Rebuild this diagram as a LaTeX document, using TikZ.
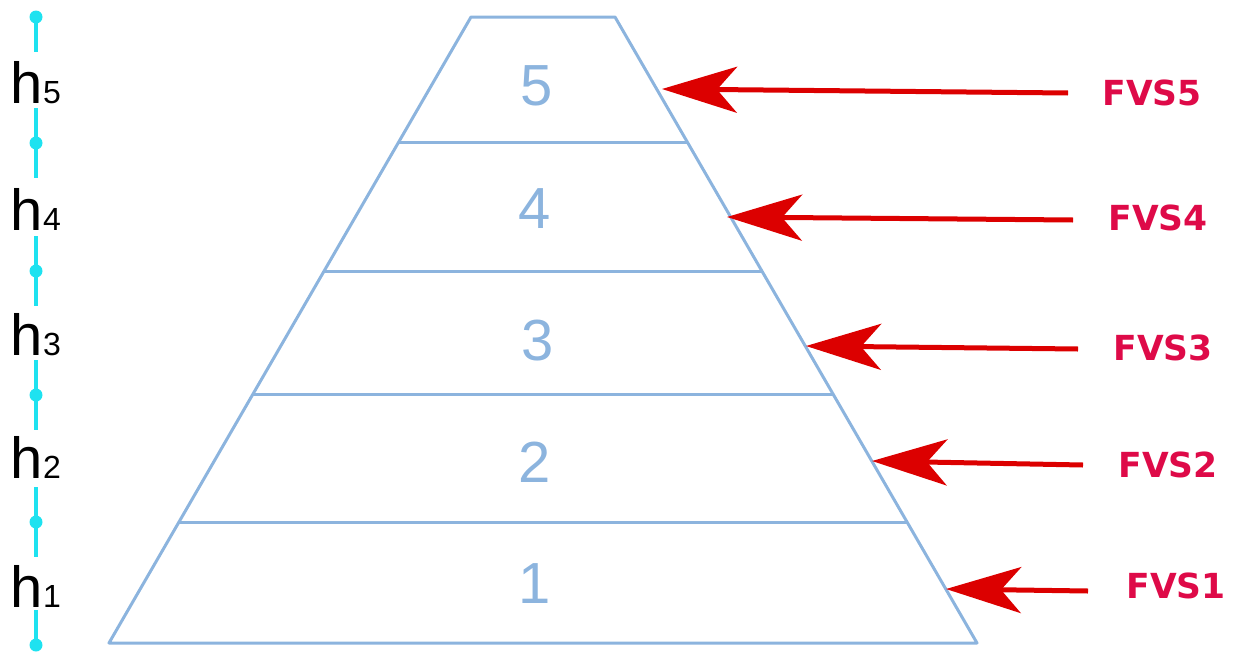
\documentclass[tikz,border=0pt]{standalone}
\usepackage{fontspec}
\setmainfont{Liberation Sans}
\newfontfamily\labelfont{DejaVu Sans}
\usepackage{tikz}
\usetikzlibrary{arrows.meta,calc}
\definecolor{layerblue}{RGB}{140,180,222}
\definecolor{axiscyan}{RGB}{30,226,240}
\definecolor{arrowred}{RGB}{220,0,0}
\definecolor{labelred}{RGB}{222,10,72}

\begin{document}
\begin{tikzpicture}[x=1pt,y=-1pt,
  layer/.style={draw=layerblue, line width=3pt, line join=round},
  layernum/.style={text=layerblue, font=\fontsize{58}{60}\selectfont, anchor=base, inner sep=0pt},
  hlabel/.style={font=\fontsize{58}{60}\selectfont, anchor=base, inner sep=0pt},
  axisline/.style={draw=axiscyan, line width=3.5pt},
  axisdot/.style={circle, fill=axiscyan, inner sep=0pt, minimum size=13pt},
  force/.style={draw=arrowred, line width=5pt, -{Stealth[length=75pt,width=46pt,inset=20pt]}},
  fvs/.style={text=labelred, font=\labelfont\fontsize{34.5}{36}\selectfont\bfseries, inner sep=0pt}
]
\useasboundingbox (0,0) rectangle (1238,653);

% pyramid outline
\coordinate (tl) at (471,17);
\coordinate (tr) at (615,17);
\coordinate (br) at (977,643);
\coordinate (bl) at (109,643);
\draw[layer] (tl) -- (tr) -- (br) -- (bl) -- cycle;

% layer boundaries
\foreach \y [count=\i] in {143,271,395,522} {
  \coordinate (L\i) at ($(tl)!{(\y-17)/626}!(bl)$);
  \coordinate (R\i) at ($(tr)!{(\y-17)/626}!(br)$);
  \draw[layer] (L\i) -- (R\i);
}

% layer numbers
\foreach \n/\x/\y in {5/537/105, 4/535/228, 3/538/360, 2/535/482, 1/535/603}
  \node[layernum] (num\n) at (\x,\y) {\n};

% height axis
\foreach \y [count=\i from 0] in {17,143,271,395,522,645}
  \node[axisdot] (d\i) at (36,\y) {};
\draw[axisline] (d0.center) -- ++(0,35);
\foreach \i in {1,...,4}
  \draw[axisline] ($(d\i.center)+(0,-35)$) -- ($(d\i.center)+(0,35)$);
\draw[axisline] ($(d5.center)+(0,-35)$) -- (d5.center);

\foreach \n/\y in {5/103, 4/230, 3/355, 2/478, 1/607}
  \node[hlabel] (h\n) at (36,\y) {h{\fontsize{32}{34}\selectfont\n}};

% loads
\foreach \n/\tx/\ty/\sx/\sy/\lx/\ly in {5/662/89/1068/93/1152/93,
    4/727/217/1073/220/1158/218, 3/806/346/1078/349/1163/348,
    2/872/461/1083/465/1168/465, 1/946/589/1088/591/1176/586} {
  \coordinate (tip\n) at (\tx,\ty);
  \coordinate (tail\n) at (\sx,\sy);
  \node[fvs] (fvs\n) at (\lx,\ly) {FVS\n};
  \draw[force] (tail\n) -- (tip\n);
}
\end{tikzpicture}
\end{document}
